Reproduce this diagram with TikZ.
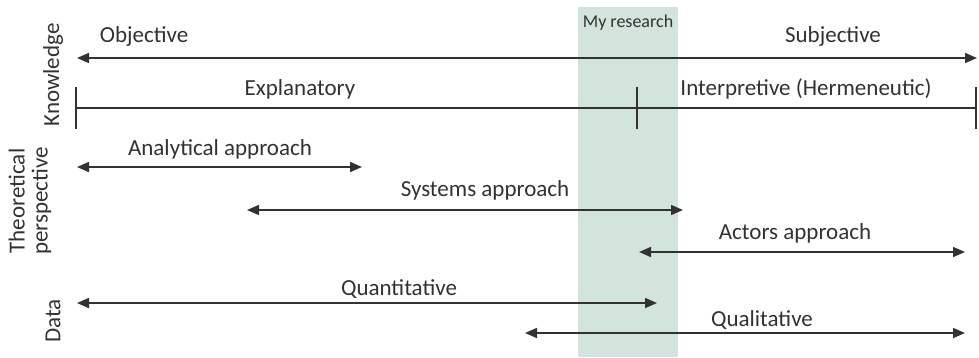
\documentclass[tikz,border=0pt]{standalone}
\usepackage{fontspec}
\setmainfont{Carlito}
\usetikzlibrary{arrows.meta}
\definecolor{bandgreen}{RGB}{211,228,220}
\definecolor{linegray}{RGB}{50,50,50}
\tikzset{
  span/.style={linegray,line width=1.7pt,{Triangle[length=12pt,width=10pt]}-{Triangle[length=12pt,width=10pt]}},
  bar/.style={linegray,line width=1.4pt},
  lbl/.style={inner sep=1pt,font=\fontsize{23}{25}\selectfont,text=linegray},
  side/.style={lbl,rotate=90}
}
\begin{document}
\begin{tikzpicture}[x=1pt,y=-1pt]
\useasboundingbox (0,0) rectangle (979,357);
\fill[bandgreen] (578,7) rectangle (678,357);
\node[lbl,font=\fontsize{18}{20}\selectfont] (myres) at (628,23) {My research};
% knowledge
\coordinate (objL) at (77,58);
\coordinate (objR) at (977,58);
\draw[span] (objL) -- (objR);
\node[lbl] (obj) at (144,36) {Objective};
\node[lbl] (subj) at (833,36) {Subjective};
\coordinate (expL) at (76,108);
\coordinate (expM) at (637,108);
\coordinate (expR) at (976,108);
\draw[bar] (expL) -- (expR);
\draw[bar] ([yshift=-21pt]expL) -- ([yshift=21pt]expL)
  ([yshift=-21pt]expM) -- ([yshift=21pt]expM)
  ([yshift=-21pt]expR) -- ([yshift=21pt]expR);
\node[lbl] (expl) at (300,89) {Explanatory};
\node[lbl] (interp) at (806,89) {Interpretive (Hermeneutic)};
\node[side] (know) at (53,75) {Knowledge};
% theoretical perspective
\coordinate (anaL) at (77,167);
\coordinate (anaR) at (362,167);
\draw[span] (anaL) -- (anaR);
\node[lbl] (ana) at (220,149) {Analytical approach};
\coordinate (sysL) at (247,210);
\coordinate (sysR) at (683,210);
\draw[span] (sysL) -- (sysR);
\node[lbl] (sys) at (485,190) {Systems approach};
\coordinate (actL) at (639,252);
\coordinate (actR) at (965,252);
\draw[span] (actL) -- (actR);
\node[lbl] (act) at (795,233) {Actors approach};
\node[side,align=center] (theo) at (30,201) {Theoretical\\[-2pt]perspective};
% data
\coordinate (quanL) at (77,303);
\coordinate (quanR) at (657,303);
\draw[span] (quanL) -- (quanR);
\node[lbl] (quan) at (399,289) {Quantitative};
\coordinate (qualL) at (525,333);
\coordinate (qualR) at (965,333);
\draw[span] (qualL) -- (qualR);
\node[lbl] (qual) at (762,320) {Qualitative};
\node[side] (data) at (53,321) {Data};
\end{tikzpicture}
\end{document}
